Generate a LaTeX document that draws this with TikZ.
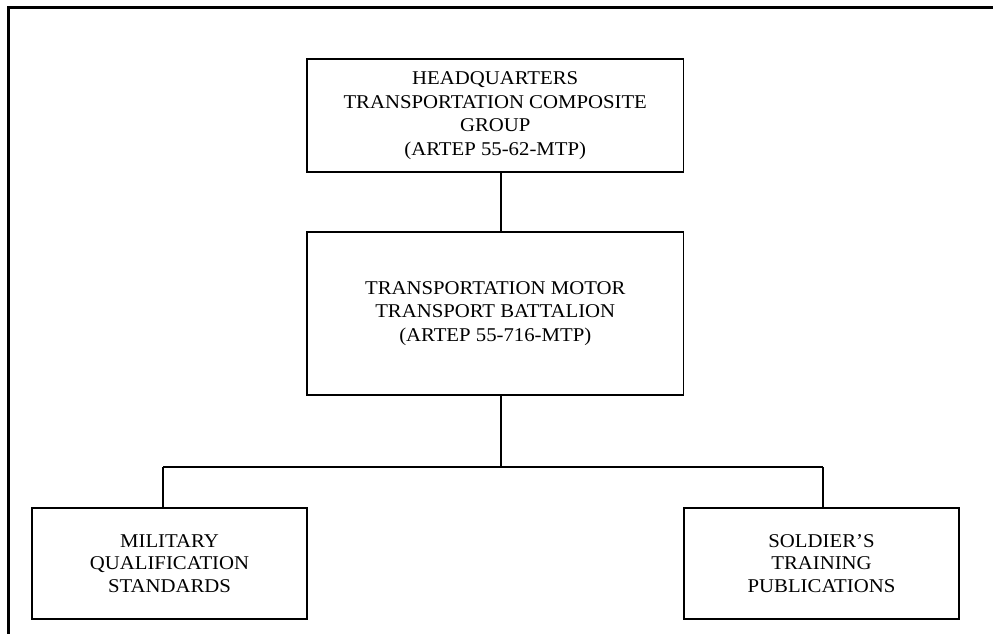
\documentclass[tikz,border=0pt]{standalone}
\usepackage{fontspec}
\setmainfont[FakeStretch=1.065]{Liberation Serif}
\begin{document}
\begin{tikzpicture}[x=1pt,y=-1pt,
  orgbox/.style={draw=black, line width=1.6pt, align=center, inner sep=0pt,
    font=\fontsize{19.5}{23.7}\selectfont},
  conn/.style={draw=black, line width=1.6pt},
  frame/.style={draw=black, line width=3pt}]
\useasboundingbox (0,0) rectangle (993,634);
\draw[frame] (8,640) -- (8,7.5) -- (1000,7.5);
\node[orgbox, minimum width=376.5pt, minimum height=112.5pt] (hq) at (495.25,115.5)
  {HEADQUARTERS\\TRANSPORTATION COMPOSITE\\GROUP\\(ARTEP 55-62-MTP)};
\node[orgbox, minimum width=376.5pt, minimum height=163pt] (bn) at (495.25,313.5)
  {TRANSPORTATION MOTOR\\TRANSPORT BATTALION\\(ARTEP 55-716-MTP)};
\node[orgbox, minimum width=275pt, minimum height=111pt, font=\fontsize{19.5}{22.5}\selectfont] (mqs) at (169.5,563.5)
  {MILITARY\\QUALIFICATION\\STANDARDS};
\node[orgbox, minimum width=275pt, minimum height=111pt, font=\fontsize{19.5}{22.5}\selectfont] (stp) at (821.5,563.5)
  {SOLDIER'S\\TRAINING\\PUBLICATIONS};
\coordinate (j) at (500.7,467);
\coordinate (hl) at (163,467);
\coordinate (hr) at (823,467);
\draw[conn] (j |- hq.south) -- (j |- bn.north);
\draw[conn] (j |- bn.south) -- (j);
\draw[conn] (hl) -- (hr);
\draw[conn] (hl) -- (hl |- mqs.north);
\draw[conn] (hr) -- (hr |- stp.north);
\end{tikzpicture}
\end{document}
